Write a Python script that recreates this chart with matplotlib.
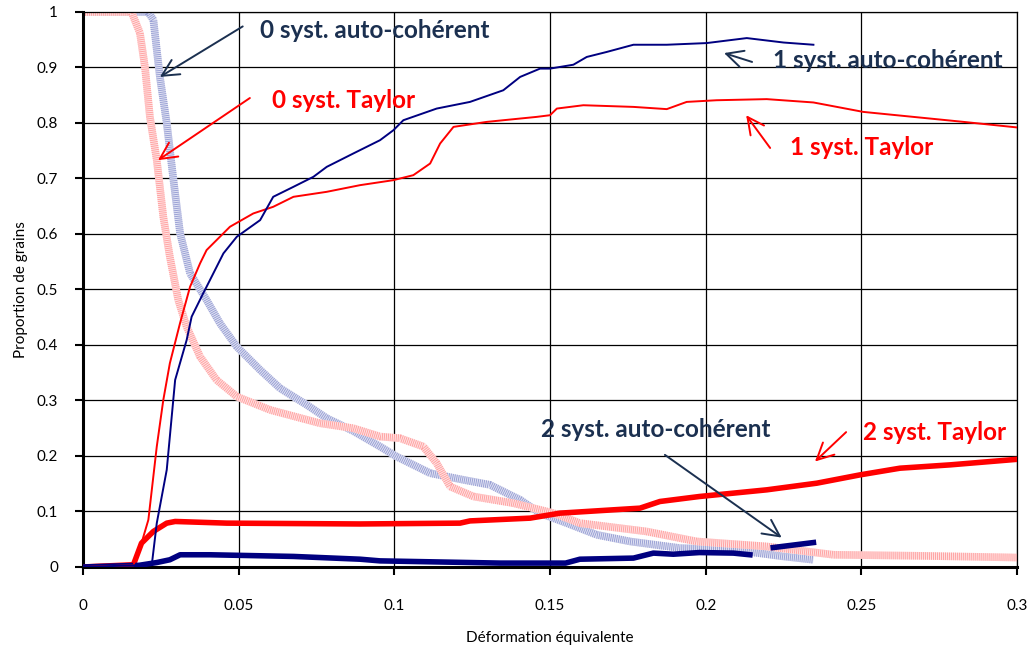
import matplotlib.pyplot as plt
import numpy as np

plt.rcParams['font.family'] = ['Lato', 'DejaVu Sans']

# 0 syst. auto-cohérent (light blue band)
x0_ac = [0.0, 0.0209, 0.0226, 0.0247, 0.0269, 0.029, 0.0312, 0.0344, 0.0397, 0.044, 0.0494,
         0.0569, 0.0633, 0.0719, 0.0783, 0.0868, 0.0954, 0.1007, 0.1115, 0.1222, 0.1307,
         0.1404, 0.1468, 0.1554, 0.165, 0.1757, 0.1918, 0.2089, 0.225, 0.2346]
y0_ac = [1.0, 1.0, 0.986, 0.883, 0.80, 0.70, 0.601, 0.529, 0.481, 0.439, 0.397,
         0.355, 0.322, 0.292, 0.268, 0.245, 0.217, 0.199, 0.169, 0.157, 0.148,
         0.121, 0.097, 0.079, 0.058, 0.046, 0.034, 0.031, 0.019, 0.013]

# 0 syst. Taylor (light red band)
x0_ta = [0.0, 0.0156, 0.0183, 0.0199, 0.0215, 0.0237, 0.0258, 0.0279, 0.0306, 0.0333, 0.0376,
         0.0429, 0.0494, 0.0601, 0.0761, 0.0868, 0.0954, 0.1018, 0.1093, 0.1136, 0.1179,
         0.1254, 0.1382, 0.1511, 0.1596, 0.181, 0.1971, 0.2196, 0.241, 0.27, 0.3]
y0_ta = [1.0, 1.0, 0.962, 0.901, 0.811, 0.733, 0.631, 0.559, 0.481, 0.433, 0.379,
         0.337, 0.307, 0.283, 0.259, 0.25, 0.235, 0.232, 0.217, 0.187, 0.145,
         0.127, 0.115, 0.097, 0.079, 0.064, 0.046, 0.037, 0.022, 0.02, 0.017]

# 1 syst. auto-cohérent (thin navy)
x1_ac = [0.0, 0.0221, 0.0237, 0.0269, 0.0296, 0.0333, 0.0349, 0.0386, 0.0397, 0.0451, 0.0494,
         0.0569, 0.0611, 0.0676, 0.074, 0.0783, 0.0868, 0.0954, 0.0997, 0.1029, 0.1136,
         0.1243, 0.135, 0.1404, 0.1468, 0.15, 0.1575, 0.1618, 0.1682, 0.1768, 0.1875,
         0.2003, 0.2132, 0.225, 0.2346]
y1_ac = [0.0, 0.004, 0.079, 0.175, 0.337, 0.409, 0.451, 0.493, 0.505, 0.565, 0.595,
         0.625, 0.667, 0.685, 0.703, 0.721, 0.745, 0.769, 0.787, 0.805, 0.826,
         0.838, 0.859, 0.883, 0.898, 0.898, 0.905, 0.919, 0.928, 0.941, 0.941,
         0.944, 0.953, 0.945, 0.941]

# 1 syst. Taylor (thin red)
x1_ta = [0.0, 0.0162, 0.0188, 0.021, 0.0237, 0.0258, 0.0279, 0.0312, 0.0344, 0.0376, 0.0397,
         0.0472, 0.0547, 0.0611, 0.0676, 0.0783, 0.089, 0.0997, 0.1061, 0.1115, 0.1147,
         0.119, 0.1297, 0.1457, 0.15, 0.1522, 0.1607, 0.1768, 0.1875, 0.1939, 0.2035,
         0.2196, 0.2346, 0.2506, 0.2667, 0.2828, 0.3]
y1_ta = [0.0, 0.003, 0.043, 0.085, 0.217, 0.301, 0.367, 0.44, 0.505, 0.547, 0.571,
         0.613, 0.637, 0.649, 0.667, 0.676, 0.688, 0.697, 0.706, 0.727, 0.763,
         0.793, 0.802, 0.811, 0.814, 0.826, 0.832, 0.829, 0.825, 0.838, 0.841,
         0.843, 0.837, 0.82, 0.811, 0.802, 0.792]

# 2 syst. auto-cohérent (thick navy), gap before the last piece
x2_ac = [0.0, 0.018, 0.0237, 0.0279, 0.0312, 0.0408, 0.0676, 0.089, 0.0954, 0.134, 0.155,
         0.1596, 0.1768, 0.1832, 0.1896, 0.198, 0.2089, 0.2142, np.nan, 0.2217, 0.2346]
y2_ac = [0.0, 0.003, 0.008, 0.013, 0.022, 0.022, 0.019, 0.014, 0.011, 0.007, 0.007,
         0.014, 0.016, 0.025, 0.023, 0.026, 0.025, 0.022, np.nan, 0.035, 0.044]

# 2 syst. Taylor (thick red)
x2_ta = [0.0, 0.0162, 0.0188, 0.0226, 0.0269, 0.0296, 0.0462, 0.089, 0.1211, 0.1243, 0.1436,
         0.1532, 0.1789, 0.1853, 0.198, 0.2196, 0.2357, 0.2496, 0.2624, 0.2785, 0.3]
y2_ta = [0.0, 0.004, 0.043, 0.064, 0.079, 0.082, 0.079, 0.0775, 0.079, 0.083, 0.088,
         0.097, 0.106, 0.118, 0.127, 0.139, 0.151, 0.166, 0.178, 0.184, 0.194]

navy = '#000080'
red = '#ff0000'
label_navy = '#1b3050'

fig = plt.figure(figsize=(10.36, 6.52), dpi=100)
ax = fig.add_axes([0.0801, 0.1304, 0.9016, 0.8512])

# dotted bands: pale base with fine dashes over it
for xs, ys, base, dots in [(x0_ac, y0_ac, '#e0e2f3', '#979ed3'),
                           (x0_ta, y0_ta, '#ffe2e2', '#ffa0a0')]:
    ax.plot(xs, ys, color=base, lw=5.5, solid_capstyle='butt', zorder=2)
    ax.plot(xs, ys, color=dots, lw=5.5, ls=(0, (0.12, 0.14)), zorder=2)

ax.plot(x2_ta, y2_ta, color=red, lw=4, zorder=3)
ax.plot(x2_ac, y2_ac, color=navy, lw=4, zorder=3)
ax.plot(x1_ta, y1_ta, color=red, lw=1.4, zorder=4)
ax.plot(x1_ac, y1_ac, color=navy, lw=1.4, zorder=4)

ax.set_xlim(0, 0.3)
ax.set_ylim(0, 1)
ax.set_xticks(np.arange(0, 0.301, 0.05))
ax.set_yticks(np.arange(0, 1.01, 0.1))
ax.set_xticklabels(['0', '0.05', '0.1', '0.15', '0.2', '0.25', '0.3'])
ax.set_yticklabels(['0', '0.1', '0.2', '0.3', '0.4', '0.5', '0.6', '0.7', '0.8', '0.9', '1'])
ax.grid(True, color='black', lw=0.9, zorder=1)
ax.set_axisbelow(True)
ax.tick_params(direction='out', length=6, width=1.5, labelsize=11, pad=17)
ax.tick_params(axis='y', pad=12)
ax.spines['left'].set_linewidth(2.2)
ax.spines['bottom'].set_linewidth(2.2)
ax.spines['top'].set_linewidth(0.9)
ax.spines['right'].set_linewidth(0.9)

ax.set_xlabel('Déformation équivalente', fontsize=11, labelpad=13)
ax.set_ylabel('Proportion de grains', fontsize=11, labelpad=6)

# curve labels with open arrows
notes = [
    ('0 syst. auto-cohérent', label_navy, (0.0247, 0.883), (0.0513, 0.974), (0.0569, 0.967)),
    ('0 syst. Taylor', red, (0.0241, 0.733), (0.0536, 0.845), (0.0607, 0.841)),
    ('1 syst. auto-cohérent', label_navy, (0.2059, 0.926), (0.2149, 0.910), (0.2216, 0.913)),
    ('1 syst. Taylor', red, (0.2130, 0.814), (0.2207, 0.755), (0.2271, 0.755)),
    ('2 syst. auto-cohérent', label_navy, (0.2244, 0.053), (0.1869, 0.202), (0.1471, 0.247)),
    ('2 syst. Taylor', red, (0.2351, 0.190), (0.2451, 0.243), (0.2505, 0.243)),
]
for text, col, head, tail, txt in notes:
    ax.annotate('', xy=head, xytext=tail,
                arrowprops=dict(arrowstyle='->', color=col, lw=1.4,
                                mutation_scale=30, shrinkA=0, shrinkB=0), zorder=6)
    ax.text(txt[0], txt[1], text, color=col, fontsize=17.5, fontweight='bold',
            ha='left', va='center', zorder=6)

fig.savefig('out.png', dpi=100)
